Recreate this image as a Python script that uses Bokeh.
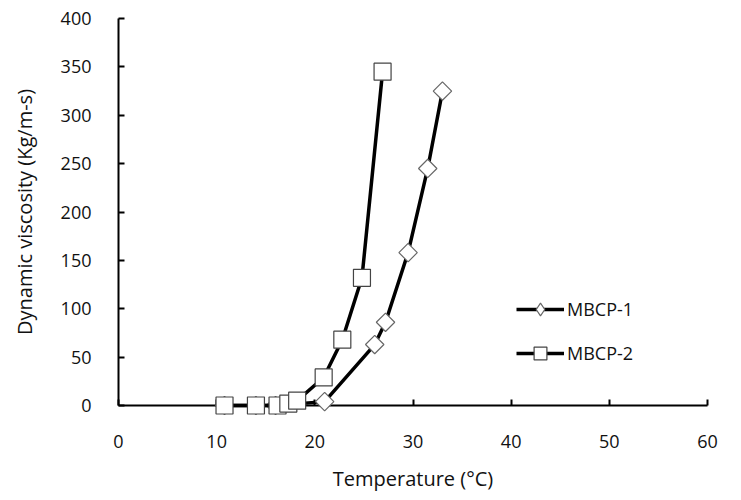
import math
from bokeh.plotting import figure
from bokeh.models import Legend, LegendItem, FixedTicker, Range1d
from bokeh.embed import file_html
from bokeh.resources import INLINE

# Data
t1 = [10.8, 14.0, 16.0, 21.0, 26.1, 27.2, 29.5, 31.5, 33.0]
v1 = [0, 0, 0, 4, 63, 86, 158, 245, 325]
t2 = [10.8, 14.0, 16.2, 17.3, 18.2, 20.9, 22.8, 24.8, 26.9]
v2 = [0, 0, 0, 2, 5, 29, 68, 132, 345]
names = ["MBCP-1", "MBCP-2"]
x_ticks = [0, 10, 20, 30, 40, 50, 60]
y_ticks = [0, 50, 100, 150, 200, 250, 300, 350, 400]

FONT = "Open Sans"
TXT = "#111111"

p = figure(output_backend="svg", toolbar_location=None,
           frame_width=589, frame_height=387,
           min_border_left=118, min_border_top=18, min_border_right=20, min_border_bottom=10,
           x_range=Range1d(0, 60), y_range=Range1d(0, 400))
p.outline_line_color = None
p.grid.visible = False
p.background_fill_color = "white"

for ax in (p.xaxis, p.yaxis):
    ax.axis_line_width = 2
    ax.axis_line_color = "black"
    ax.major_tick_in = 6
    ax.major_tick_out = 0
    ax.major_tick_line_width = 2
    ax.minor_tick_line_color = None
    ax.major_label_text_font = FONT
    ax.major_label_text_font_size = "18px"
    ax.major_label_text_color = TXT
    ax.axis_label_text_font = FONT
    ax.axis_label_text_font_size = "20px"
    ax.axis_label_text_font_style = "normal"
    ax.axis_label_text_color = TXT

p.xaxis.ticker = FixedTicker(ticks=x_ticks)
p.yaxis.ticker = FixedTicker(ticks=y_ticks)
p.xaxis.major_label_standoff = 29
p.yaxis.major_label_standoff = 27
p.xaxis.axis_label = "Temperature (°C)"
p.yaxis.axis_label = "Dynamic viscosity (Kg/m-s)"
p.xaxis.axis_label_standoff = 14
p.yaxis.axis_label_standoff = 20

l1 = p.line(t1, v1, line_color="black", line_width=3.5, level="overlay")
m1 = p.scatter(t1, v1, marker="square", size=13, angle=math.pi / 4,
               fill_color="white", line_color="#666666", line_width=1.2,
               level="overlay")
l2 = p.line(t2, v2, line_color="black", line_width=3.5, level="overlay")
m2 = p.scatter(t2, v2, marker="square", size=17, fill_color="white",
               line_color="#444444", line_width=1.2, level="overlay")
# legend-only diamond marker (point placed outside the visible range)
d_leg = p.scatter([-50], [-50], marker="diamond", size=18,
                  fill_color="white", line_color="#666666", line_width=1.2)

legend = Legend(items=[LegendItem(label=names[0], renderers=[l1, d_leg]),
                       LegendItem(label=names[1], renderers=[l2, m2])],
                location=(398, 36), border_line_color=None,
                background_fill_alpha=0, label_text_font=FONT,
                label_text_font_size="18px", label_text_color=TXT,
                glyph_width=48, glyph_height=32, spacing=12, label_standoff=3)
p.add_layout(legend, "center")

open("out.html", "w").write(file_html(p, INLINE))
